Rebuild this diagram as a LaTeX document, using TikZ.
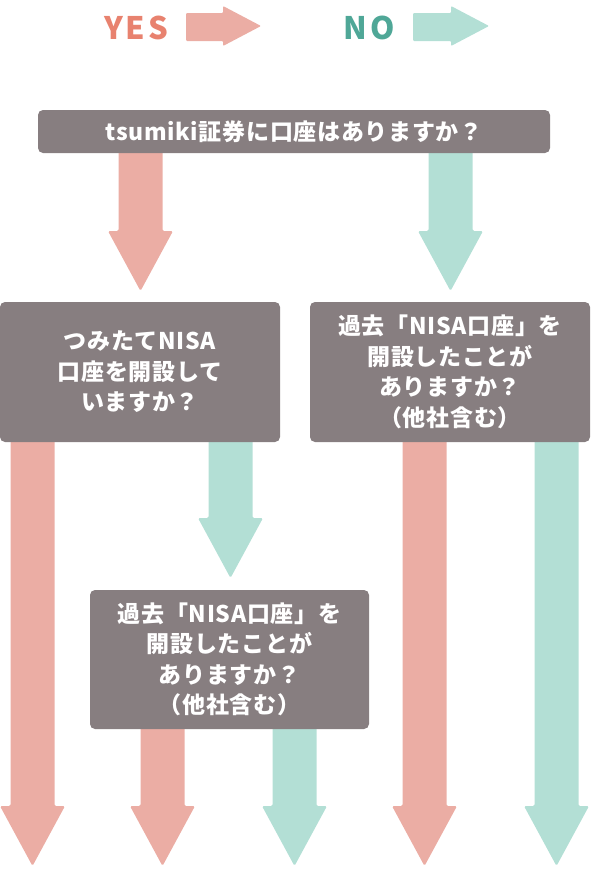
\documentclass[tikz,border=0pt]{standalone}
\usepackage{fontspec}
\setmainfont{Noto Sans CJK JP}
\usetikzlibrary{calc}

\definecolor{boxgray}{HTML}{877E80}
\definecolor{yesfill}{HTML}{EBADA4}
\definecolor{nofill}{HTML}{B3DFD5}
\definecolor{yestext}{HTML}{E8826F}
\definecolor{notext}{HTML}{4FA797}

\pgfdeclarelayer{bg}
\pgfsetlayers{bg,main}

% fat downward arrow: colour, box it leaves, tip coordinate
\newcommand{\fatdown}[3]{%
  \begin{pgfonlayer}{bg}
  \fill[#1, rounded corners=1.5pt]
    ($(#3 |- #2.south)+(-22,-4)$) -- ($(#3)+(-22,-60)$) -- ($(#3)+(-32.5,-60)$) -- (#3)
    -- ($(#3)+(32.5,-60)$) -- ($(#3)+(22,-60)$) -- ($(#3 |- #2.south)+(22,-4)$) -- cycle;
  \end{pgfonlayer}}

\begin{document}
\begin{tikzpicture}[
    x=1pt, y=-1pt,
    question/.style={fill=boxgray, rounded corners=5pt, text=white, align=center,
        inner sep=0pt, font=\fontsize{23}{30.5}\selectfont\bfseries\addfontfeature{LetterSpace=3}},
    legend/.style={font=\fontsize{31}{32}\selectfont\bfseries\addfontfeature{LetterSpace=9}}
]
\useasboundingbox (0,0) rectangle (590,870);

% ── Legend ──────────────────────────────────────────────────
\node[legend, text=yestext] (yes) at (136,28) {YES};
\node[legend, text=notext]  (no)  at (369,28) {NO};
\fill[yesfill, rounded corners=1pt] (186,13) -- (223,13) -- (223,6) -- (261,26) -- (223,46) -- (223,41) -- (186,41) -- cycle;
\fill[nofill, rounded corners=1pt]  (413,13) -- (451,13) -- (451,6) -- (489,26) -- (451,46) -- (451,41) -- (413,41) -- cycle;

% ── Questions ───────────────────────────────────────────────
\node[question, minimum width=512, minimum height=43] (q1) at (294,131.5)
    {tsumiki証券に口座はありますか？};
\node[question, minimum width=280, minimum height=140] (q2) at (140,372)
    {つみたてNISA\\口座を開設して\\いますか？};
\node[question, minimum width=280, minimum height=140] (q3) at (450,372)
    {過去「NISA口座」を\\開設したことが\\ありますか？\\（他社含む）};
\node[question, minimum width=279, minimum height=139] (q4) at (229.5,659.5)
    {過去「NISA口座」を\\開設したことが\\ありますか？\\（他社含む）};

% ── Arrow tips ──────────────────────────────────────────────
\coordinate (t1y) at (140.5,291);
\coordinate (t1n) at (450.5,291);
\coordinate (t2y) at (32.5,866);
\coordinate (t2n) at (230.5,578);
\coordinate (t3y) at (424.5,866);
\coordinate (t3n) at (556.5,866);
\coordinate (t4y) at (162.5,866);
\coordinate (t4n) at (294.5,866);

% ── Arrows ──────────────────────────────────────────────────
\fatdown{yesfill}{q1}{t1y}
\fatdown{nofill}{q1}{t1n}
\fatdown{yesfill}{q2}{t2y}
\fatdown{nofill}{q2}{t2n}
\fatdown{yesfill}{q3}{t3y}
\fatdown{nofill}{q3}{t3n}
\fatdown{yesfill}{q4}{t4y}
\fatdown{nofill}{q4}{t4n}

\end{tikzpicture}
\end{document}
